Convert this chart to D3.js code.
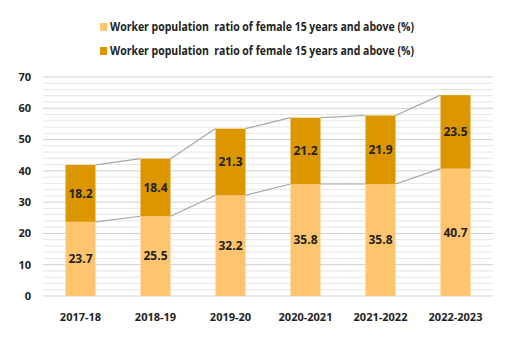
<!DOCTYPE html>
<html lang="en">
<head>
  <meta charset="UTF-8">
  <title>Worker population ratio</title>
  <script src="https://d3js.org/d3.v7.min.js"></script>
  <style>
    body { margin: 0; background: #fff; }
    text { font-family: "Open Sans", "Liberation Sans", sans-serif; font-weight: bold; fill: #222; }
  </style>
</head>
<body>
<script>
  // data
  const years = ["2017-18", "2018-19", "2019-20", "2020-2021", "2021-2022", "2022-2023"];
  const lower = [23.7, 25.5, 32.2, 35.8, 35.8, 40.7];
  const upper = [18.2, 18.4, 21.3, 21.2, 21.9, 23.5];
  const seriesNames = [
    "Worker population  ratio of female 15 years and above (%)",
    "Worker population  ratio of female 15 years and above (%)"
  ];
  const colors = ["#FFC46E", "#DC9700"];
  const yTicks = [0, 10, 20, 30, 40, 50, 60, 70];

  const width = 520, height = 346;
  const margin = { top: 77, right: 27, bottom: 50, left: 43 };

  const svg = d3.select("body").append("svg")
    .attr("width", width)
    .attr("height", height);

  const x = d3.scaleBand()
    .domain(years)
    .range([margin.left, width - margin.right])
    .paddingInner(0.6)
    .paddingOuter(0.3);

  const y = d3.scaleLinear()
    .domain([0, 70])
    .range([height - margin.bottom, margin.top]);

  // minor gridlines
  svg.append("g")
    .selectAll("line")
    .data(d3.range(0, 71, 2).filter(v => v % 10 !== 0))
    .enter().append("line")
    .attr("x1", margin.left).attr("x2", width - margin.right)
    .attr("y1", d => y(d)).attr("y2", d => y(d))
    .attr("stroke", "#e6e6e6").attr("stroke-width", 1);

  // major gridlines
  svg.append("g")
    .selectAll("line")
    .data(yTicks)
    .enter().append("line")
    .attr("x1", margin.left).attr("x2", width - margin.right)
    .attr("y1", d => y(d)).attr("y2", d => y(d))
    .attr("stroke", "#cfcfcf").attr("stroke-width", 1);

  // y labels
  svg.append("g")
    .selectAll("text")
    .data(yTicks)
    .enter().append("text")
    .attr("x", 31)
    .attr("y", d => y(d))
    .attr("dy", "0.35em")
    .attr("text-anchor", "end")
    .attr("font-size", 11)
    .text(d => d);

  // x labels
  svg.append("g")
    .selectAll("text")
    .data(years)
    .enter().append("text")
    .attr("x", d => x(d) + x.bandwidth() / 2)
    .attr("y", y(0) + 25)
    .attr("text-anchor", "middle")
    .attr("font-size", 11)
    .text(d => d);

  const totals = lower.map((v, i) => v + upper[i]);

  // connector lines between bars
  const conn = svg.append("g").attr("stroke", "#a6a6a6").attr("stroke-width", 1.2);
  [lower, totals].forEach(arr => {
    conn.selectAll(null)
      .data(years.slice(0, -1))
      .enter().append("line")
      .attr("x1", (d, i) => x(d) + x.bandwidth())
      .attr("y1", (d, i) => y(arr[i]))
      .attr("x2", (d, i) => x(years[i + 1]))
      .attr("y2", (d, i) => y(arr[i + 1]));
  });

  // bars
  const stackData = years.map((d, i) => ({ year: d, a: lower[i], b: upper[i] }));
  const stacked = d3.stack().keys(["a", "b"])(stackData);

  stacked.forEach((layer, k) => {
    const g = svg.append("g");
    g.selectAll("rect")
      .data(layer)
      .enter().append("rect")
      .attr("x", d => x(d.data.year))
      .attr("width", x.bandwidth())
      .attr("y", d => y(d[1]))
      .attr("height", d => y(d[0]) - y(d[1]))
      .attr("fill", colors[k]);
    g.selectAll("text")
      .data(layer)
      .enter().append("text")
      .attr("x", d => x(d.data.year) + x.bandwidth() / 2)
      .attr("y", d => y((d[0] + d[1]) / 2))
      .attr("dy", "0.35em")
      .attr("text-anchor", "middle")
      .attr("font-size", 12)
      .text(d => (d[1] - d[0]).toFixed(1));
  });

  // legend
  const legend = svg.append("g")
    .selectAll("g")
    .data(seriesNames)
    .enter().append("g")
    .attr("transform", (d, i) => "translate(100," + (27 + i * 24) + ")");
  legend.append("rect")
    .attr("x", 0).attr("y", -4)
    .attr("width", 7).attr("height", 8)
    .attr("fill", (d, i) => colors[i]);
  legend.append("text")
    .attr("x", 10)
    .attr("dy", "0.35em")
    .attr("font-size", 12)
    .style("white-space", "pre")
    .attr("textLength", 304)
    .attr("lengthAdjust", "spacingAndGlyphs")
    .text(d => d);
</script>
</body>
</html>
